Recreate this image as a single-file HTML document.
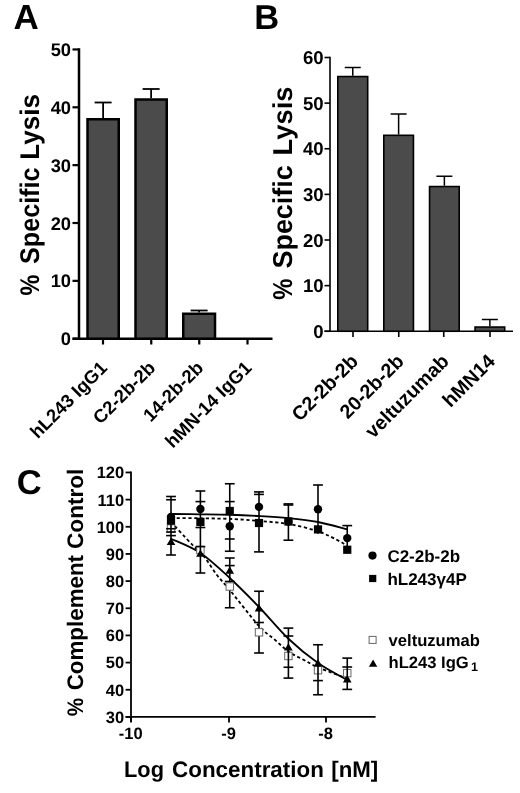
<!DOCTYPE html><html><head><meta charset="utf-8"><title>Figure</title>
<style>html,body{margin:0;padding:0;background:#fff}svg{display:block;will-change:transform}text{font-family:"Liberation Sans", Arial, Helvetica, sans-serif;font-weight:bold;fill:#000;text-rendering:geometricPrecision}</style></head><body>
<svg width="520" height="793" viewBox="0 0 520 793">
<rect width="520" height="793" fill="#fff"/>
<text x="13.40" y="29.30" font-size="35" text-anchor="start" >A</text>
<text x="254.20" y="29.10" font-size="34.5" text-anchor="start" >B</text>
<text x="16.70" y="494.40" font-size="34.5" text-anchor="start" >C</text>
<line x1="79.00" y1="48.20" x2="79.00" y2="339.95" stroke="#000" stroke-width="2.5" />
<line x1="72.50" y1="338.70" x2="272.50" y2="338.70" stroke="#000" stroke-width="2.5" />
<line x1="72.50" y1="338.70" x2="79.00" y2="338.70" stroke="#000" stroke-width="2.2" />
<text x="71.00" y="345.30" font-size="18.3" text-anchor="end" >0</text>
<line x1="72.50" y1="280.85" x2="79.00" y2="280.85" stroke="#000" stroke-width="2.2" />
<text x="71.00" y="287.45" font-size="18.3" text-anchor="end" >10</text>
<line x1="72.50" y1="223.00" x2="79.00" y2="223.00" stroke="#000" stroke-width="2.2" />
<text x="71.00" y="229.60" font-size="18.3" text-anchor="end" >20</text>
<line x1="72.50" y1="165.15" x2="79.00" y2="165.15" stroke="#000" stroke-width="2.2" />
<text x="71.00" y="171.75" font-size="18.3" text-anchor="end" >30</text>
<line x1="72.50" y1="107.30" x2="79.00" y2="107.30" stroke="#000" stroke-width="2.2" />
<text x="71.00" y="113.90" font-size="18.3" text-anchor="end" >40</text>
<line x1="72.50" y1="49.45" x2="79.00" y2="49.45" stroke="#000" stroke-width="2.2" />
<text x="71.00" y="56.05" font-size="18.3" text-anchor="end" >50</text>
<line x1="103.00" y1="338.70" x2="103.00" y2="344.50" stroke="#000" stroke-width="2.2" />
<line x1="151.25" y1="338.70" x2="151.25" y2="344.50" stroke="#000" stroke-width="2.2" />
<line x1="199.25" y1="338.70" x2="199.25" y2="344.50" stroke="#000" stroke-width="2.2" />
<line x1="247.50" y1="338.70" x2="247.50" y2="344.50" stroke="#000" stroke-width="2.2" />
<line x1="103.12" y1="102.50" x2="103.12" y2="118.00" stroke="#000" stroke-width="1.8" />
<line x1="94.62" y1="102.50" x2="111.62" y2="102.50" stroke="#000" stroke-width="1.8" />
<rect x="87.50" y="119.25" width="31.25" height="219.45" fill="#4b4b4b" stroke="#000" stroke-width="2.5"/>
<line x1="151.12" y1="89.00" x2="151.12" y2="98.25" stroke="#000" stroke-width="1.8" />
<line x1="142.62" y1="89.00" x2="159.62" y2="89.00" stroke="#000" stroke-width="1.8" />
<rect x="135.50" y="99.50" width="31.25" height="239.20" fill="#4b4b4b" stroke="#000" stroke-width="2.5"/>
<line x1="199.12" y1="310.50" x2="199.12" y2="312.50" stroke="#000" stroke-width="1.8" />
<line x1="190.62" y1="310.50" x2="207.62" y2="310.50" stroke="#000" stroke-width="1.8" />
<rect x="183.25" y="313.75" width="31.75" height="24.95" fill="#4b4b4b" stroke="#000" stroke-width="2.5"/>
<text transform="translate(39.00,295.46) rotate(-90) scale(0.8653,1)" font-size="27">%</text>
<text transform="translate(39.00,263.94) rotate(-90) scale(0.9308,1)" font-size="27">Specific</text>
<text transform="translate(39.00,159.64) rotate(-90) scale(0.9655,1)" font-size="27">Lysis</text>
<text transform="translate(108.20,369.00) rotate(-45)" font-size="18.5" text-anchor="end">hL243 IgG1</text>
<text transform="translate(156.45,369.00) rotate(-45)" font-size="18.5" text-anchor="end">C2-2b-2b</text>
<text transform="translate(204.45,369.00) rotate(-45)" font-size="18.5" text-anchor="end">14-2b-2b</text>
<text transform="translate(252.70,369.00) rotate(-45)" font-size="18.5" text-anchor="end">hMN-14 IgG1</text>
<line x1="330.00" y1="56.70" x2="330.00" y2="332.05" stroke="#000" stroke-width="1.6" />
<line x1="324.50" y1="331.25" x2="513.00" y2="331.25" stroke="#000" stroke-width="1.6" />
<line x1="324.50" y1="331.25" x2="330.00" y2="331.25" stroke="#000" stroke-width="1.6" />
<text x="323.70" y="337.95" font-size="18.6" text-anchor="end" >0</text>
<line x1="324.50" y1="285.62" x2="330.00" y2="285.62" stroke="#000" stroke-width="1.6" />
<text x="323.70" y="292.32" font-size="18.6" text-anchor="end" >10</text>
<line x1="324.50" y1="240.00" x2="330.00" y2="240.00" stroke="#000" stroke-width="1.6" />
<text x="323.70" y="246.70" font-size="18.6" text-anchor="end" >20</text>
<line x1="324.50" y1="194.38" x2="330.00" y2="194.38" stroke="#000" stroke-width="1.6" />
<text x="323.70" y="201.07" font-size="18.6" text-anchor="end" >30</text>
<line x1="324.50" y1="148.75" x2="330.00" y2="148.75" stroke="#000" stroke-width="1.6" />
<text x="323.70" y="155.45" font-size="18.6" text-anchor="end" >40</text>
<line x1="324.50" y1="103.12" x2="330.00" y2="103.12" stroke="#000" stroke-width="1.6" />
<text x="323.70" y="109.83" font-size="18.6" text-anchor="end" >50</text>
<line x1="324.50" y1="57.50" x2="330.00" y2="57.50" stroke="#000" stroke-width="1.6" />
<text x="323.70" y="64.20" font-size="18.6" text-anchor="end" >60</text>
<line x1="353.00" y1="331.25" x2="353.00" y2="337.00" stroke="#000" stroke-width="1.6" />
<line x1="398.75" y1="331.25" x2="398.75" y2="337.00" stroke="#000" stroke-width="1.6" />
<line x1="443.75" y1="331.25" x2="443.75" y2="337.00" stroke="#000" stroke-width="1.6" />
<line x1="490.00" y1="331.25" x2="490.00" y2="337.00" stroke="#000" stroke-width="1.6" />
<line x1="352.75" y1="67.50" x2="352.75" y2="75.75" stroke="#000" stroke-width="1.5" />
<line x1="344.75" y1="67.50" x2="360.75" y2="67.50" stroke="#000" stroke-width="1.5" />
<rect x="337.80" y="76.55" width="29.90" height="254.70" fill="#4b4b4b" stroke="#000" stroke-width="1.6"/>
<line x1="398.62" y1="114.00" x2="398.62" y2="134.50" stroke="#000" stroke-width="1.5" />
<line x1="390.62" y1="114.00" x2="406.62" y2="114.00" stroke="#000" stroke-width="1.5" />
<rect x="383.80" y="135.30" width="29.65" height="195.95" fill="#4b4b4b" stroke="#000" stroke-width="1.6"/>
<line x1="444.38" y1="176.25" x2="444.38" y2="185.75" stroke="#000" stroke-width="1.5" />
<line x1="436.38" y1="176.25" x2="452.38" y2="176.25" stroke="#000" stroke-width="1.5" />
<rect x="429.55" y="186.55" width="29.65" height="144.70" fill="#4b4b4b" stroke="#000" stroke-width="1.6"/>
<line x1="489.88" y1="319.50" x2="489.88" y2="326.25" stroke="#000" stroke-width="1.5" />
<line x1="481.88" y1="319.50" x2="497.88" y2="319.50" stroke="#000" stroke-width="1.5" />
<rect x="475.05" y="327.05" width="29.65" height="4.20" fill="#4b4b4b" stroke="#000" stroke-width="1.6"/>
<text transform="translate(291.90,299.81) rotate(-90) scale(0.8709,1)" font-size="27.3">%</text>
<text transform="translate(291.90,268.49) rotate(-90) scale(0.9859,1)" font-size="27.3">Specific</text>
<text transform="translate(291.90,155.46) rotate(-90) scale(1.0030,1)" font-size="27.3">Lysis</text>
<text transform="translate(359.20,362.60) rotate(-45)" font-size="19.7" text-anchor="end">C2-2b-2b</text>
<text transform="translate(404.95,362.60) rotate(-45)" font-size="19.7" text-anchor="end">20-2b-2b</text>
<text transform="translate(449.95,362.60) rotate(-45)" font-size="19.7" text-anchor="end">veltuzumab</text>
<text transform="translate(496.20,362.60) rotate(-45)" font-size="19.7" text-anchor="end">hMN14</text>
<line x1="131.00" y1="471.56" x2="131.00" y2="722.00" stroke="#000" stroke-width="1.8" />
<line x1="125.60" y1="716.90" x2="375.60" y2="716.90" stroke="#000" stroke-width="1.8" />
<line x1="125.60" y1="716.90" x2="131.00" y2="716.90" stroke="#000" stroke-width="1.8" />
<text x="124.20" y="722.80" font-size="16.5" text-anchor="end" >30</text>
<line x1="125.60" y1="689.74" x2="131.00" y2="689.74" stroke="#000" stroke-width="1.8" />
<text x="124.20" y="695.64" font-size="16.5" text-anchor="end" >40</text>
<line x1="125.60" y1="662.58" x2="131.00" y2="662.58" stroke="#000" stroke-width="1.8" />
<text x="124.20" y="668.48" font-size="16.5" text-anchor="end" >50</text>
<line x1="125.60" y1="635.42" x2="131.00" y2="635.42" stroke="#000" stroke-width="1.8" />
<text x="124.20" y="641.32" font-size="16.5" text-anchor="end" >60</text>
<line x1="125.60" y1="608.26" x2="131.00" y2="608.26" stroke="#000" stroke-width="1.8" />
<text x="124.20" y="614.16" font-size="16.5" text-anchor="end" >70</text>
<line x1="125.60" y1="581.10" x2="131.00" y2="581.10" stroke="#000" stroke-width="1.8" />
<text x="124.20" y="587.00" font-size="16.5" text-anchor="end" >80</text>
<line x1="125.60" y1="553.94" x2="131.00" y2="553.94" stroke="#000" stroke-width="1.8" />
<text x="124.20" y="559.84" font-size="16.5" text-anchor="end" >90</text>
<line x1="125.60" y1="526.78" x2="131.00" y2="526.78" stroke="#000" stroke-width="1.8" />
<text x="124.20" y="532.68" font-size="16.5" text-anchor="end" >100</text>
<line x1="125.60" y1="499.62" x2="131.00" y2="499.62" stroke="#000" stroke-width="1.8" />
<text x="124.20" y="505.52" font-size="16.5" text-anchor="end" >110</text>
<line x1="125.60" y1="472.46" x2="131.00" y2="472.46" stroke="#000" stroke-width="1.8" />
<text x="124.20" y="478.36" font-size="16.5" text-anchor="end" >120</text>
<line x1="131.00" y1="716.90" x2="131.00" y2="722.50" stroke="#000" stroke-width="1.8" />
<text x="130.70" y="739.30" font-size="16.5" text-anchor="middle" >-10</text>
<line x1="229.00" y1="716.90" x2="229.00" y2="722.50" stroke="#000" stroke-width="1.8" />
<text x="228.70" y="739.30" font-size="16.5" text-anchor="middle" >-9</text>
<line x1="326.00" y1="716.90" x2="326.00" y2="722.50" stroke="#000" stroke-width="1.8" />
<text x="325.70" y="739.30" font-size="16.5" text-anchor="middle" >-8</text>
<text transform="translate(124.04,777.00) scale(0.9724,1)" font-size="22.4">Log</text>
<text transform="translate(172.10,777.00) scale(0.9997,1)" font-size="22.4">Concentration</text>
<text transform="translate(331.26,777.00) scale(0.9944,1)" font-size="22.4">[nM]</text>
<text transform="translate(82.60,716.30) rotate(-90) scale(0.9178,1)" font-size="22.5">%</text>
<text transform="translate(82.60,690.29) rotate(-90) scale(0.9930,1)" font-size="22.5">Complement</text>
<text transform="translate(82.60,548.95) rotate(-90) scale(1.0032,1)" font-size="22.5">Control</text>
<path d="M171.00,514.00 C175.90,514.05 190.61,514.17 200.40,514.30 C210.19,514.42 219.98,514.47 229.75,514.75 C239.52,515.03 249.22,515.44 259.00,516.00 C268.77,516.56 278.57,517.10 288.40,518.10 C298.23,519.10 308.19,520.12 318.00,522.00 C327.81,523.88 342.38,528.17 347.25,529.40" fill="none" stroke="#000" stroke-width="1.8" />
<path d="M171.00,518.00 C175.90,518.05 190.61,518.15 200.40,518.30 C210.19,518.45 219.98,518.47 229.75,518.90 C239.52,519.33 249.22,520.05 259.00,520.90 C268.77,521.75 278.57,522.27 288.40,524.00 C298.23,525.73 309.40,528.38 318.00,531.30 C326.60,534.22 335.25,539.05 340.00,541.50 C344.75,543.95 345.42,545.25 346.50,546.00" fill="none" stroke="#000" stroke-width="1.8" stroke-dasharray="3.2,2.6"/>
<path d="M171.00,538.75 C175.90,541.12 190.61,546.46 200.40,553.00 C210.19,559.54 219.98,569.00 229.75,578.00 C239.52,587.00 249.22,596.88 259.00,607.00 C268.77,617.12 278.57,629.42 288.40,638.75 C298.23,648.08 308.19,656.12 318.00,663.00 C327.81,669.88 342.38,677.17 347.25,680.00" fill="none" stroke="#000" stroke-width="1.8" />
<path d="M171.00,522.00 C174.58,525.83 187.00,539.25 192.50,545.00 C198.00,550.75 199.93,551.50 204.00,556.50 C208.07,561.50 212.61,569.42 216.90,575.00 C221.19,580.58 222.73,581.50 229.75,590.00 C236.77,598.50 251.53,617.75 259.00,626.00 C266.48,634.25 269.70,635.25 274.60,639.50 C279.50,643.75 283.58,648.12 288.40,651.50 C293.22,654.88 298.57,657.17 303.50,659.80 C308.43,662.43 310.71,664.18 318.00,667.30 C325.29,670.42 342.38,676.63 347.25,678.50" fill="none" stroke="#000" stroke-width="1.8" stroke-dasharray="3.2,2.6"/>
<rect x="167.30" y="524.80" width="7.4" height="7.4" fill="#fff" stroke="#666" stroke-width="1.0"/>
<rect x="196.70" y="546.30" width="7.4" height="7.4" fill="#fff" stroke="#666" stroke-width="1.0"/>
<rect x="284.70" y="652.30" width="7.4" height="7.4" fill="#fff" stroke="#666" stroke-width="1.0"/>
<rect x="314.30" y="666.50" width="7.4" height="7.4" fill="#fff" stroke="#666" stroke-width="1.0"/>
<rect x="343.55" y="669.40" width="7.4" height="7.4" fill="#fff" stroke="#666" stroke-width="1.0"/>
<line x1="171.00" y1="496.50" x2="171.00" y2="555.00" stroke="#000" stroke-width="1.6" />
<line x1="166.10" y1="496.50" x2="175.90" y2="496.50" stroke="#000" stroke-width="1.6" />
<line x1="166.10" y1="499.75" x2="175.90" y2="499.75" stroke="#000" stroke-width="1.6" />
<line x1="166.10" y1="528.75" x2="175.90" y2="528.75" stroke="#000" stroke-width="1.6" />
<line x1="166.10" y1="532.00" x2="175.90" y2="532.00" stroke="#000" stroke-width="1.6" />
<line x1="166.10" y1="535.60" x2="175.90" y2="535.60" stroke="#000" stroke-width="1.6" />
<line x1="166.10" y1="555.00" x2="175.90" y2="555.00" stroke="#000" stroke-width="1.6" />
<line x1="200.40" y1="491.00" x2="200.40" y2="573.00" stroke="#000" stroke-width="1.6" />
<line x1="195.50" y1="491.00" x2="205.30" y2="491.00" stroke="#000" stroke-width="1.6" />
<line x1="195.50" y1="501.60" x2="205.30" y2="501.60" stroke="#000" stroke-width="1.6" />
<line x1="195.50" y1="527.50" x2="205.30" y2="527.50" stroke="#000" stroke-width="1.6" />
<line x1="195.50" y1="546.60" x2="205.30" y2="546.60" stroke="#000" stroke-width="1.6" />
<line x1="195.50" y1="573.00" x2="205.30" y2="573.00" stroke="#000" stroke-width="1.6" />
<line x1="229.75" y1="483.75" x2="229.75" y2="551.25" stroke="#000" stroke-width="1.6" />
<line x1="224.85" y1="483.75" x2="234.65" y2="483.75" stroke="#000" stroke-width="1.6" />
<line x1="224.85" y1="501.60" x2="234.65" y2="501.60" stroke="#000" stroke-width="1.6" />
<line x1="224.85" y1="539.00" x2="234.65" y2="539.00" stroke="#000" stroke-width="1.6" />
<line x1="224.85" y1="551.25" x2="234.65" y2="551.25" stroke="#000" stroke-width="1.6" />
<line x1="229.75" y1="558.00" x2="229.75" y2="607.75" stroke="#000" stroke-width="1.6" />
<line x1="224.85" y1="558.00" x2="234.65" y2="558.00" stroke="#000" stroke-width="1.6" />
<line x1="224.85" y1="565.60" x2="234.65" y2="565.60" stroke="#000" stroke-width="1.6" />
<line x1="224.85" y1="581.50" x2="234.65" y2="581.50" stroke="#000" stroke-width="1.6" />
<line x1="224.85" y1="607.75" x2="234.65" y2="607.75" stroke="#000" stroke-width="1.6" />
<line x1="259.00" y1="491.90" x2="259.00" y2="551.90" stroke="#000" stroke-width="1.6" />
<line x1="254.10" y1="491.90" x2="263.90" y2="491.90" stroke="#000" stroke-width="1.6" />
<line x1="254.10" y1="494.40" x2="263.90" y2="494.40" stroke="#000" stroke-width="1.6" />
<line x1="254.10" y1="551.90" x2="263.90" y2="551.90" stroke="#000" stroke-width="1.6" />
<line x1="259.00" y1="591.25" x2="259.00" y2="653.00" stroke="#000" stroke-width="1.6" />
<line x1="254.10" y1="591.25" x2="263.90" y2="591.25" stroke="#000" stroke-width="1.6" />
<line x1="254.10" y1="622.50" x2="263.90" y2="622.50" stroke="#000" stroke-width="1.6" />
<line x1="254.10" y1="653.00" x2="263.90" y2="653.00" stroke="#000" stroke-width="1.6" />
<line x1="288.40" y1="503.90" x2="288.40" y2="540.20" stroke="#000" stroke-width="1.6" />
<line x1="283.50" y1="503.90" x2="293.30" y2="503.90" stroke="#000" stroke-width="1.6" />
<line x1="283.50" y1="505.00" x2="293.30" y2="505.00" stroke="#000" stroke-width="1.6" />
<line x1="283.50" y1="540.20" x2="293.30" y2="540.20" stroke="#000" stroke-width="1.6" />
<line x1="288.40" y1="628.10" x2="288.40" y2="678.10" stroke="#000" stroke-width="1.6" />
<line x1="283.50" y1="628.10" x2="293.30" y2="628.10" stroke="#000" stroke-width="1.6" />
<line x1="283.50" y1="636.00" x2="293.30" y2="636.00" stroke="#000" stroke-width="1.6" />
<line x1="283.50" y1="667.25" x2="293.30" y2="667.25" stroke="#000" stroke-width="1.6" />
<line x1="283.50" y1="678.10" x2="293.30" y2="678.10" stroke="#000" stroke-width="1.6" />
<line x1="318.00" y1="485.00" x2="318.00" y2="533.80" stroke="#000" stroke-width="1.6" />
<line x1="313.10" y1="485.00" x2="322.90" y2="485.00" stroke="#000" stroke-width="1.6" />
<line x1="318.00" y1="644.75" x2="318.00" y2="694.75" stroke="#000" stroke-width="1.6" />
<line x1="313.10" y1="644.75" x2="322.90" y2="644.75" stroke="#000" stroke-width="1.6" />
<line x1="313.10" y1="680.60" x2="322.90" y2="680.60" stroke="#000" stroke-width="1.6" />
<line x1="313.10" y1="694.75" x2="322.90" y2="694.75" stroke="#000" stroke-width="1.6" />
<line x1="347.25" y1="525.60" x2="347.25" y2="551.00" stroke="#000" stroke-width="1.6" />
<line x1="342.35" y1="525.60" x2="352.15" y2="525.60" stroke="#000" stroke-width="1.6" />
<line x1="347.25" y1="658.10" x2="347.25" y2="689.40" stroke="#000" stroke-width="1.6" />
<line x1="342.35" y1="658.10" x2="352.15" y2="658.10" stroke="#000" stroke-width="1.6" />
<line x1="342.35" y1="667.00" x2="352.15" y2="667.00" stroke="#000" stroke-width="1.6" />
<line x1="342.35" y1="689.40" x2="352.15" y2="689.40" stroke="#000" stroke-width="1.6" />
<rect x="226.05" y="582.80" width="7.4" height="7.4" fill="#fff" stroke="#666" stroke-width="1.0"/>
<rect x="255.30" y="628.60" width="7.4" height="7.4" fill="#fff" stroke="#666" stroke-width="1.0"/>
<path d="M171.00,537.70 L175.30,545.10 L166.70,545.10 Z" fill="#000"/>
<path d="M200.40,549.45 L204.70,556.85 L196.10,556.85 Z" fill="#000"/>
<path d="M229.75,566.30 L234.05,573.70 L225.45,573.70 Z" fill="#000"/>
<path d="M259.00,604.00 L263.30,611.40 L254.70,611.40 Z" fill="#000"/>
<path d="M288.40,643.20 L292.70,650.60 L284.10,650.60 Z" fill="#000"/>
<path d="M318.00,659.20 L322.30,666.60 L313.70,666.60 Z" fill="#000"/>
<path d="M347.25,675.00 L351.55,682.40 L342.95,682.40 Z" fill="#000"/>
<rect x="166.90" y="516.50" width="8.2" height="8.2" fill="#000"/>
<rect x="196.30" y="517.80" width="8.2" height="8.2" fill="#000"/>
<rect x="225.65" y="506.90" width="8.2" height="8.2" fill="#000"/>
<rect x="254.90" y="518.90" width="8.2" height="8.2" fill="#000"/>
<rect x="284.30" y="517.40" width="8.2" height="8.2" fill="#000"/>
<rect x="313.90" y="525.30" width="8.2" height="8.2" fill="#000"/>
<rect x="343.15" y="545.65" width="8.2" height="8.2" fill="#000"/>
<circle cx="171.00" cy="517.00" r="4.2" fill="#000"/>
<circle cx="200.40" cy="509.00" r="4.2" fill="#000"/>
<circle cx="229.75" cy="526.25" r="4.2" fill="#000"/>
<circle cx="259.00" cy="506.90" r="4.2" fill="#000"/>
<circle cx="288.40" cy="521.50" r="4.2" fill="#000"/>
<circle cx="318.00" cy="509.30" r="4.2" fill="#000"/>
<circle cx="347.25" cy="538.10" r="4.2" fill="#000"/>
<circle cx="372.50" cy="555.60" r="4.1" fill="#000"/>
<text x="387.40" y="561.50" font-size="17" text-anchor="start" >C2-2b-2b</text>
<rect x="369.10" y="574.90" width="7.2" height="7.2" fill="#000"/>
<text x="387.4" y="584.6" font-size="17">hL243γ4P</text>
<rect x="369.10" y="636.40" width="7.0" height="7.0" fill="#fff" stroke="#666" stroke-width="1.0"/>
<text x="388.60" y="645.80" font-size="16.6" text-anchor="start" >veltuzumab</text>
<path d="M373.10,659.60 L377.30,666.82 L368.90,666.82 Z" fill="#000"/>
<text x="388.5" y="667.7" font-size="16.6">hL243 IgG<tspan font-size="12.5" dx="2.2" dy="3.6">1</tspan></text>
</svg></body></html>
